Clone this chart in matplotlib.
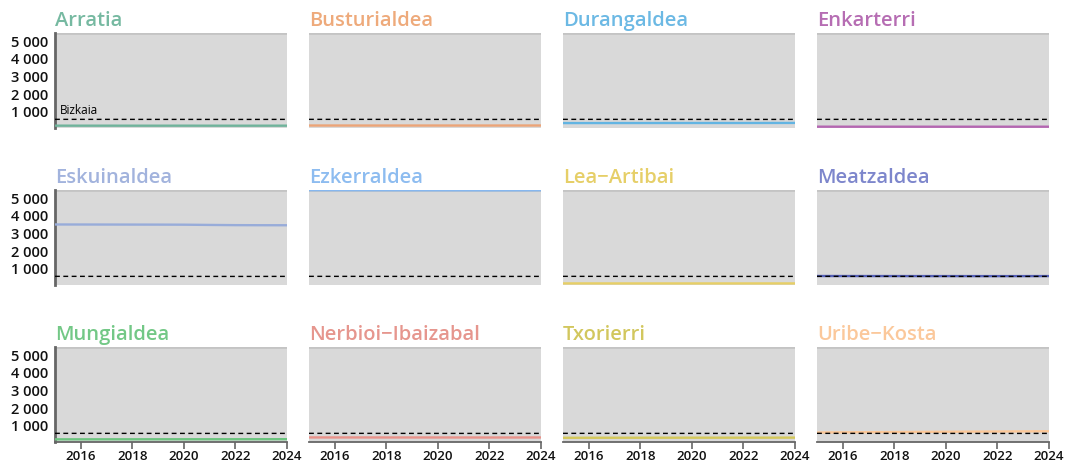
import matplotlib
matplotlib.use("Agg")
import matplotlib.pyplot as plt

plt.rcParams['font.family'] = ['Open Sans', 'DejaVu Sans']

years = [2015, 2016, 2017, 2018, 2019, 2020, 2021, 2022, 2023, 2024]

regions = ["Arratia", "Busturialdea", "Durangaldea", "Enkarterri",
           "Eskuinaldea", "Ezkerraldea", "Lea\u2212Artibai", "Meatzaldea",
           "Mungialdea", "Nerbioi\u2212Ibaizabal", "Txorierri", "Uribe\u2212Kosta"]

colors = ["#76b9a1", "#eeaa7b", "#6cb9e4", "#b66db3",
          "#a2b3dd", "#8dbcf0", "#e6cf68", "#7d86cc",
          "#73c886", "#e6968e", "#d2c75e", "#fbc89b"]
line_colors = ["#6fb39b", "#eca477", "#62b4e2", "#b466b1",
               "#98acd9", "#86b7ef", "#e7cf66", "#5560b8",
               "#6cc47f", "#e8928a", "#d4c85a", "#fcc797"]

arratia = [164, 163, 163, 162, 162, 163, 162, 161, 162, 163]
busturialdea = [172, 172, 171, 171, 171, 172, 171, 171, 172, 173]
durangaldea = [310, 311, 312, 313, 314, 315, 315, 315, 316, 318]
enkarterri = [106, 105, 105, 105, 104, 104, 104, 104, 104, 105]
eskuinaldea = [3452, 3450, 3448, 3446, 3444, 3440, 3426, 3414, 3410, 3408]
ezkerraldea = [5392, 5390, 5388, 5386, 5384, 5384, 5382, 5380, 5382, 5386]
lea_artibai = [121, 121, 120, 120, 120, 120, 120, 120, 121, 121]
meatzaldea = [540, 539, 538, 537, 536, 536, 535, 534, 535, 537]
mungialdea = [182, 183, 184, 185, 186, 187, 187, 188, 189, 191]
nerbioi_ibaizabal = [290, 289, 289, 288, 288, 288, 287, 286, 287, 288]
txorierri = [270, 271, 272, 273, 274, 275, 275, 276, 277, 279]
uribe_kosta = [570, 578, 586, 594, 602, 610, 617, 624, 631, 640]
bizkaia = [521, 520, 520, 519, 518, 518, 517, 516, 517, 519]

series = [arratia, busturialdea, durangaldea, enkarterri,
          eskuinaldea, ezkerraldea, lea_artibai, meatzaldea,
          mungialdea, nerbioi_ibaizabal, txorierri, uribe_kosta]

y_ticks = [1000, 2000, 3000, 4000, 5000]
y_ticklabels = ["1 000", "2 000", "3 000", "4 000", "5 000"]
x_ticks = [2016, 2018, 2020, 2022, 2024]

W, H = 1066, 464
fig = plt.figure(figsize=(W / 100, H / 100), dpi=100)

col_left = [55, 309, 563, 817]
row_top = [34, 191, 348]
pw, ph = 232, 94.5
ymin, ymax = 60, 5400

for i, (name, vals) in enumerate(zip(regions, series)):
    r, c = divmod(i, 4)
    x0 = col_left[c] / W
    y0 = 1 - (row_top[r] + ph) / H
    ax = fig.add_axes([x0, y0, pw / W, ph / H])
    ax.set_facecolor("#d9d9d9")
    ax.set_xlim(2015, 2024)
    ax.set_ylim(ymin, ymax)
    ax.axhline(ymax, color="#c4c4c4", lw=2.0, zorder=2)
    ax.plot(years, vals, color=line_colors[i], lw=1.7, zorder=3,
            solid_capstyle="butt")
    ax.plot(years, bizkaia, color="black", lw=1.0, dashes=(3.5, 2.5), zorder=4)
    for s in ["top", "right", "left", "bottom"]:
        ax.spines[s].set_visible(False)
    ax.text(0.0, 1.085, name, transform=ax.transAxes, fontsize=14.5,
            fontweight="semibold", color=colors[i], ha="left", va="baseline")
    if c == 0:
        ax.spines["left"].set_visible(True)
        ax.spines["left"].set_color("#666666")
        ax.spines["left"].set_linewidth(2.0)
        ax.set_yticks(y_ticks)
        ax.set_yticklabels(y_ticklabels, fontsize=10.5, fontweight="semibold",
                           color="#111111")
        ax.tick_params(axis="y", length=0, pad=5)
    else:
        ax.set_yticks([])
    if r == 2:
        ax.spines["bottom"].set_visible(True)
        ax.spines["bottom"].set_color("#666666")
        ax.spines["bottom"].set_linewidth(1.3)
        ax.set_xticks(x_ticks)
        ax.set_xticklabels([str(t) for t in x_ticks], fontsize=9.5,
                           fontweight="semibold", color="#111111")
        ax.tick_params(axis="x", length=5, width=1.2, color="#666666", pad=0.5)
    else:
        ax.set_xticks([])
    if i == 0:
        ax.text(2015.2, bizkaia[0] + 200, "Bizkaia", fontsize=8.5,
                color="black", ha="left", va="bottom")

fig.savefig("out.png", dpi=100)
